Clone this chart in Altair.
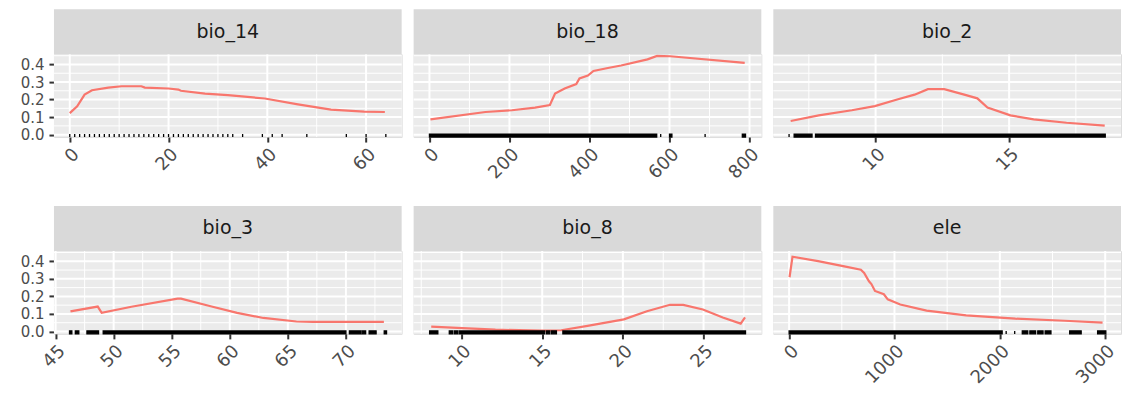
import altair as alt
import pandas as pd

# ---------------- data ----------------
panel_names = ["bio_14", "bio_18", "bio_2", "bio_3", "bio_8", "ele"]

bio14_x = [0, 1.5, 3, 4.5, 7.8, 10.5, 14.5, 15.2, 20, 22, 22.5, 27.4, 32, 39.5, 46.2, 52.9, 59.6, 63.8]
bio14_y = [0.123, 0.162, 0.228, 0.253, 0.268, 0.276, 0.276, 0.268, 0.263, 0.257, 0.250, 0.234, 0.225, 0.206, 0.173, 0.143, 0.131, 0.129]

bio18_x = [2.5, 140, 206, 264, 301, 314, 338, 367, 375, 396, 410, 446, 479, 545, 569, 602, 788]
bio18_y = [0.087, 0.129, 0.139, 0.154, 0.169, 0.234, 0.263, 0.288, 0.320, 0.337, 0.363, 0.380, 0.394, 0.429, 0.449, 0.447, 0.409]

bio2_x = [6.82, 7.87, 9.11, 9.97, 10.84, 11.46, 11.96, 12.57, 13.32, 13.81, 14.19, 15.05, 15.92, 17.15, 18.58]
bio2_y = [0.078, 0.110, 0.139, 0.163, 0.202, 0.228, 0.259, 0.259, 0.228, 0.207, 0.154, 0.110, 0.087, 0.068, 0.051]

bio3_x = [46.28, 48.63, 48.97, 51.53, 55.5, 55.8, 58.35, 60.63, 62.9, 65.74, 67.17, 73.27]
bio3_y = [0.115, 0.142, 0.106, 0.141, 0.187, 0.187, 0.144, 0.106, 0.077, 0.057, 0.055, 0.055]

bio8_x = [8.12, 10.06, 12.1, 14.96, 16.18, 17.81, 20.06, 21.49, 22.92, 23.74, 24.96, 26.19, 27.3, 27.57]
bio8_y = [0.028, 0.019, 0.010, 0.005, 0.007, 0.032, 0.069, 0.115, 0.152, 0.152, 0.125, 0.080, 0.045, 0.080]

ele_x = [4, 32, 275, 524, 681, 712, 758, 781, 815, 899, 936, 1055, 1305, 1680, 2148, 2616, 2975]
ele_y = [0.309, 0.426, 0.401, 0.371, 0.352, 0.334, 0.286, 0.270, 0.231, 0.212, 0.183, 0.154, 0.119, 0.092, 0.073, 0.061, 0.051]

# rug marks: observed positions (start == end for single ticks, ranges where ticks merge)
bio14_rug_start = [0, 1, 2, 3, 4, 5, 6, 7, 8, 9, 10, 11, 12, 13, 14, 15, 16, 17, 18, 19, 20,
                   21, 22, 23, 24, 25, 26, 27, 28, 29, 30, 31, 32, 33, 35, 39, 41, 43, 48, 56, 60, 64]
bio14_rug_end = bio14_rug_start
bio18_rug_start = [0, 578, 600, 689, 782]
bio18_rug_end = [568, 578, 606, 689, 790]
bio2_rug_start = [6.76, 6.95, 7.75]
bio2_rug_end = [6.76, 7.62, 18.6]
bio3_rug_start = [46.2, 46.7, 47.7, 49.1, 70.3, 71.4, 72.0, 73.3]
bio3_rug_end = [46.4, 47.0, 48.7, 70.0, 71.3, 71.7, 72.6, 73.5]
bio8_rug_start = [8.02, 9.24, 9.55, 9.85, 15.27, 15.57, 16.28]
bio8_rug_end = [8.53, 9.45, 9.76, 15.16, 15.47, 15.88, 27.6]
ele_rug_start = [0, 2060, 2141, 2213, 2285, 2360, 2430, 2663, 2928]
ele_rug_end = [2022, 2060, 2141, 2265, 2340, 2410, 2485, 2772, 3006]

# axis breaks
bio14_major = [0, 20, 40, 60]
bio14_minor = [10, 30, 50]
bio18_major = [0, 200, 400, 600, 800]
bio18_minor = [100, 300, 500, 700]
bio2_major = [10, 15]
bio2_minor = [7.5, 12.5, 17.5]
bio3_major = [45, 50, 55, 60, 65, 70]
bio3_minor = [47.5, 52.5, 57.5, 62.5, 67.5, 72.5]
bio8_major = [10, 15, 20, 25]
bio8_minor = [7.5, 12.5, 17.5, 22.5, 27.5]
ele_major = [0, 1000, 2000, 3000]
ele_minor = [500, 1500, 2500]
y_major = [0.0, 0.1, 0.2, 0.3, 0.4]
y_minor = [0.05, 0.15, 0.25, 0.35, 0.45]

# x ranges (ggplot 5% expansion of data range)
bio14_dom = [-3.2, 67.2]
bio18_dom = [-39.5, 829.5]
bio2_dom = [6.17, 19.19]
bio3_dom = [44.86, 74.8]
bio8_dom = [7.03, 28.58]
ele_dom = [-150, 3150]
y_dom = [-0.0137, 0.459]

# ---------------- styling ----------------
W = 348
H = 83
STRIP = 45
FONT = "DejaVu Sans"
FS = 18
FS_Y = 15
LINE_COLOR = "#F8766D"


def panel(name, lx, ly, rs, re, xmaj, xmin, dom, show_y):
    xs = alt.Scale(domain=dom, nice=False, zero=False)
    ys = alt.Scale(domain=y_dom, nice=False, zero=False)
    xaxis = alt.Axis(values=xmaj, labelAngle=315, format="d", grid=False, domain=False,
                     tickSize=5, tickWidth=2, tickColor="#333333", labelFontSize=FS,
                     labelFont=FONT, labelColor="#4D4D4D", labelPadding=3, title=None,
                     labelOverlap=False, labelFlush=False)
    yaxis = alt.Axis(values=y_major, format=".1f", grid=False, domain=False,
                     tickSize=5, tickWidth=2, tickColor="#333333", labelFontSize=FS_Y,
                     labelFont=FONT, labelColor="#4D4D4D", labelPadding=5, title=None,
                     labelOverlap=False, labelFlush=False)
    ya = yaxis if show_y else None

    base_df = pd.DataFrame({"label": [name]})
    bg = alt.Chart(base_df).mark_rect(color="#EBEBEB").encode(
        x=alt.value(0), x2=alt.value(W), y=alt.value(0), y2=alt.value(H))
    xg_minor = alt.Chart(pd.DataFrame({"v": xmin})).mark_rule(color="white", strokeWidth=1).encode(
        x=alt.X("v:Q", scale=xs, axis=xaxis))
    xg_major = alt.Chart(pd.DataFrame({"v": xmaj})).mark_rule(color="white", strokeWidth=2).encode(
        x=alt.X("v:Q", scale=xs, axis=xaxis))
    yg_minor = alt.Chart(pd.DataFrame({"w": y_minor})).mark_rule(color="white", strokeWidth=1).encode(
        y=alt.Y("w:Q", scale=ys, axis=ya))
    yg_major = alt.Chart(pd.DataFrame({"w": y_major})).mark_rule(color="white", strokeWidth=2).encode(
        y=alt.Y("w:Q", scale=ys, axis=ya))
    line = alt.Chart(pd.DataFrame({"v": lx, "w": ly})).mark_line(
        color=LINE_COLOR, strokeWidth=2.2).encode(
        x=alt.X("v:Q", scale=xs, axis=xaxis), y=alt.Y("w:Q", scale=ys, axis=ya))
    rug = alt.Chart(pd.DataFrame({"v": rs, "v2": re})).mark_rect(
        color="black", stroke="black", strokeWidth=1.3).encode(
        x=alt.X("v:Q", scale=xs, axis=xaxis), x2="v2:Q",
        y=alt.value(H - 3), y2=alt.value(H))
    strip_rect = alt.Chart(base_df).mark_rect(color="#D9D9D9").encode(
        x=alt.value(0), x2=alt.value(W), y=alt.value(-STRIP), y2=alt.value(0))
    strip_text = alt.Chart(base_df).mark_text(font=FONT, fontSize=FS + 1, color="#1A1A1A",
                                              align="center", baseline="middle").encode(
        text="label:N", x=alt.value(W / 2), y=alt.value(-STRIP / 2))
    return alt.layer(bg, xg_minor, yg_minor, xg_major, yg_major, line, rug,
                     strip_rect, strip_text).properties(width=W, height=H)


p1 = panel("bio_14", bio14_x, bio14_y, bio14_rug_start, bio14_rug_end, bio14_major, bio14_minor, bio14_dom, True)
p2 = panel("bio_18", bio18_x, bio18_y, bio18_rug_start, bio18_rug_end, bio18_major, bio18_minor, bio18_dom, False)
p3 = panel("bio_2", bio2_x, bio2_y, bio2_rug_start, bio2_rug_end, bio2_major, bio2_minor, bio2_dom, False)
p4 = panel("bio_3", bio3_x, bio3_y, bio3_rug_start, bio3_rug_end, bio3_major, bio3_minor, bio3_dom, True)
p5 = panel("bio_8", bio8_x, bio8_y, bio8_rug_start, bio8_rug_end, bio8_major, bio8_minor, bio8_dom, False)
p6 = panel("ele", ele_x, ele_y, ele_rug_start, ele_rug_end, ele_major, ele_minor, ele_dom, False)

row1 = alt.hconcat(p1, p2, p3, spacing=12, bounds="flush")
row2 = alt.hconcat(p4, p5, p6, spacing=12, bounds="flush")

chart = alt.vconcat(row1, row2, spacing=22).properties(
    padding={"left": 11, "top": 0, "right": 0, "bottom": 0}
).configure_view(strokeWidth=0).configure(background="white")

chart.save("out.html", embed_options={"renderer": "svg", "actions": False})
